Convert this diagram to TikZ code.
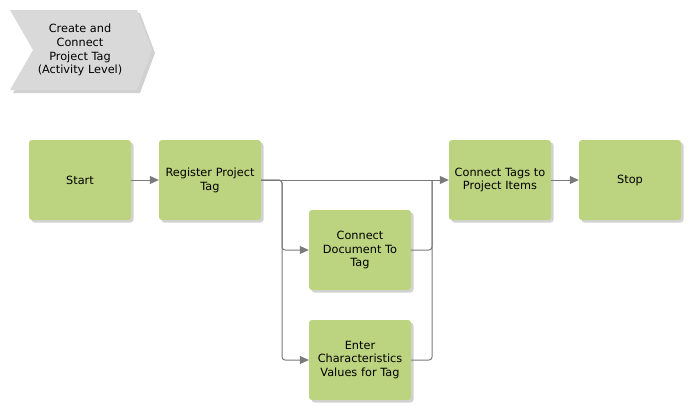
\documentclass[tikz,border=0pt]{standalone}
\usepackage{fontspec}
\setmainfont{DejaVu Sans}
\usetikzlibrary{arrows.meta,shadows,positioning}
\definecolor{boxgreen}{HTML}{BCD37F}
\definecolor{chevgray}{HTML}{D9D9D9}
\definecolor{linegray}{HTML}{7A7A7A}
\begin{document}
\begin{tikzpicture}[x=1pt,y=-1pt,
  font=\fontsize{11.3}{13.8}\selectfont,
  task/.style={fill=boxgreen, rounded corners=3pt, minimum width=100pt, minimum height=80pt,
    inner sep=1pt, align=center, text width=100pt,
    drop shadow={shadow xshift=2.5pt, shadow yshift=-2.5pt, fill=black!22, opacity=0.8}},
  conn/.style={draw=linegray, line width=1pt, rounded corners=3pt,
    -{Triangle[length=9pt,width=8pt,fill=linegray]}},
  plain/.style={draw=linegray, line width=1pt, rounded corners=3pt}]
\useasboundingbox (0,0) rectangle (690,410);
% chevron
\fill[black!18] (13,13) -- (140,13) -- (155,53) -- (140,93) -- (13,93) -- (36,53) -- cycle;
\fill[chevgray] (10,10) -- (137,10) -- (152,50) -- (137,90) -- (10,90) -- (33,50) -- cycle;
\node[align=center] (chev) at (80,50) {Create and\\Connect\\Project Tag\\(Activity Level)};
% tasks
\node[task] (start) at (80,180) {Start};
\node[task] (reg) at (210,180) {Register Project\\Tag};
\node[task] (doc) at (360,250) {Connect\\Document To\\Tag};
\node[task] (ent) at (360,360) {Enter\\Characteristics\\Values for Tag};
\node[task] (tags) at (500,180) {Connect Tags to\\Project Items};
\node[task] (stop) at (630,180) {Stop};
\coordinate (split) at (282,180);
\coordinate (join) at (432,180);
% connectors
\draw[conn] (start.east) -- (reg.west);
\draw[conn] (reg.east) -- (tags.west);
\draw[conn] (reg.east) -- (split) |- (doc.west);
\draw[conn] (reg.east) -- (split) |- (ent.west);
\draw[plain] (doc.east) -| (join);
\draw[plain] (ent.east) -| (join);
\draw[conn] (tags.east) -- (stop.west);
\end{tikzpicture}
\end{document}
